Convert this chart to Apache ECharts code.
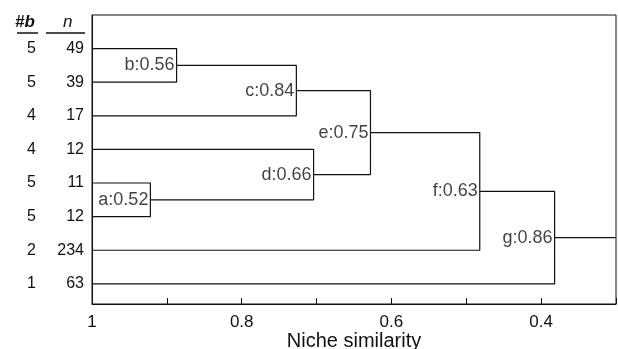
<!DOCTYPE html>
<html>
<head>
<meta charset="utf-8">
<script src="https://cdn.jsdelivr.net/npm/echarts@6/dist/echarts.min.js"></script>
<style>
  html, body { margin: 0; padding: 0; background: #fff; }
  #chart { width: 618px; height: 349px; }
</style>
</head>
<body>
<div id="chart"></div>
<script>
// leaves, top to bottom
const leafB = [5, 5, 4, 4, 5, 5, 2, 1];
const leafN = [49, 39, 17, 12, 11, 12, 234, 63];

// merge nodes: similarity level (x), the two children, printed label
// children: numbers = leaf index (0-based), strings = node name
const nodeNames = ["a", "b", "c", "d", "e", "f", "g"];
const nodeLevel = [0.922, 0.887, 0.727, 0.704, 0.628, 0.482, 0.382];
const nodeKids = [[4, 5], [0, 1], ["b", 2], [3, "a"], ["c", "d"], ["e", 6], ["f", 7]];
const nodeValue = ["0.52", "0.56", "0.84", "0.66", "0.75", "0.63", "0.86"];

const xTicks = [1, 0.8, 0.6, 0.4];
const xMin = 0.3, xMax = 1;

const FONT = "Liberation Sans, Arial, sans-serif";
const INK = "#111";

// positions of leaves / nodes
const pos = {};
function where(k) {
  if (typeof k === "number") return [xMax, k + 1];
  return pos[k];
}
const linePts = [];
const labelPts = [];
nodeNames.forEach((name, i) => {
  const p1 = where(nodeKids[i][0]);
  const p2 = where(nodeKids[i][1]);
  const h = nodeLevel[i];
  const mid = (p1[1] + p2[1]) / 2;
  pos[name] = [h, mid];
  linePts.push(p1, [h, p1[1]], [h, p2[1]], p2, "-");
  labelPts.push({ value: [h, mid], name: name + ":" + nodeValue[i] });
});
// stem of the root out to the right edge
const root = pos[nodeNames[nodeNames.length - 1]];
linePts.push(root, [xMin, root[1]]);

const chart = echarts.init(document.getElementById("chart"));

const yBase = {
  type: "value",
  inverse: true,
  min: 0,
  max: 8.6,
  interval: 1,
  position: "left",
  axisTick: { show: false },
  splitLine: { show: false },
};

chart.setOption({
  animation: false,
  textStyle: { fontFamily: FONT, color: INK },
  grid: {
    left: 92, right: 2, top: 15, bottom: 45,
    outerBoundsMode: "none",
    containLabel: false,
    show: true, borderColor: INK, borderWidth: 1,
  },
  xAxis: {
    type: "value",
    inverse: true,
    min: xMin,
    max: xMax,
    interval: 0.1,
    position: "bottom",
    name: "Niche similarity",
    nameLocation: "middle",
    nameGap: 27,
    nameMoveOverlap: false,
    nameTextStyle: { fontSize: 20, color: INK, fontFamily: FONT },
    axisLine: { onZero: false, lineStyle: { color: INK, width: 1 } },
    axisTick: { inside: true, length: 6, lineStyle: { color: INK } },
    axisLabel: {
      fontSize: 17,
      color: INK,
      margin: 10,
      formatter: (v) => {
        const r = Math.round(v * 10) / 10;
        return xTicks.indexOf(r) >= 0 ? String(r) : "";
      },
    },
    splitLine: { show: false },
  },
  yAxis: [
    Object.assign({}, yBase, {
      axisLine: { show: true, lineStyle: { color: INK } },
      axisLabel: {
        fontSize: 16, color: INK, margin: 8,
        formatter: (v) => (Number.isInteger(v) && v >= 1 && v <= leafN.length ? String(leafN[v - 1]) : ""),
      },
    }),
    Object.assign({}, yBase, {
      offset: 48,
      axisLine: { show: false },
      axisLabel: {
        fontSize: 16, color: INK, margin: 8,
        formatter: (v) => (Number.isInteger(v) && v >= 1 && v <= leafB.length ? String(leafB[v - 1]) : ""),
      },
    }),
  ],
  graphic: [
    { type: "text", left: 15, top: 14, style: { text: "#b", font: "italic bold 17px " + FONT, fill: INK } },
    { type: "text", left: 63, top: 14, style: { text: "n", font: "italic 17px " + FONT, fill: INK } },
    { type: "line", shape: { x1: 17, y1: 33, x2: 38, y2: 33 }, style: { stroke: INK, lineWidth: 1.5 } },
    { type: "line", shape: { x1: 46, y1: 33, x2: 85, y2: 33 }, style: { stroke: INK, lineWidth: 1.5 } },
  ],
  series: [
    {
      type: "line",
      data: linePts,
      connectNulls: false,
      symbol: "none",
      lineStyle: { color: INK, width: 1.2 },
      silent: true,
    },
    {
      type: "scatter",
      data: labelPts,
      symbolSize: 0,
      label: {
        show: true,
        position: "left",
        distance: 2,
        fontSize: 18,
        color: INK,
        fontFamily: FONT,
        formatter: (p) => p.name,
      },
      silent: true,
    },
  ],
});
</script>
</body>
</html>
